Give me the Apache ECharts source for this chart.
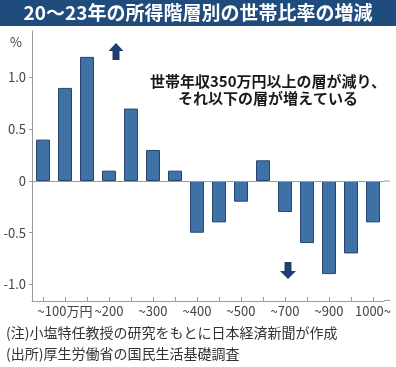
<!DOCTYPE html>
<html><head><meta charset="utf-8">
<script src="https://cdn.jsdelivr.net/npm/echarts@6/dist/echarts.min.js"></script>
<style>html,body{margin:0;padding:0;background:#fff}#c{width:396px;height:367px}</style>
</head><body><div id="c"></div>
<script>
const categories = ['~50','~100','~150','~200','~250','~300','~350','~400','~450','~500','~600','~700','~800','~900','~1000','1000~'];
const values = [0.4, 0.9, 1.2, 0.1, 0.7, 0.3, 0.1, -0.5, -0.4, -0.2, 0.2, -0.3, -0.6, -0.9, -0.7, -0.4];
const xTickLabels = ['', '~100万円', '', '~200', '', '~300', '', '~400', '', '~500', '', '~700', '', '~900', '', '1000~'];
const yTickValues = [-1, -0.5, 0, 0.5, 1];
const titleText = '20～23年の所得階層別の世帯比率の増減';
const unitText = '%';
const annotationLines = ['世帯年収350万円以上の層が減り、', 'それ以下の層が増えている'];
const noteLines = ['(注)小塩特任教授の研究をもとに日本経済新聞が作成', '(出所)厚生労働省の国民生活基礎調査'];

const FONT = '"Noto Sans CJK JP", "Noto Sans", sans-serif';
const AXIS = '#9a9a9a';
const chart = echarts.init(document.getElementById('c'), null, {renderer: 'canvas'});
chart.setOption({
  animation: false,
  backgroundColor: '#fff',
  textStyle: {fontFamily: FONT},
  grid: {left: 32, right: 12, top: 31, bottom: 66, containLabel: false},
  xAxis: {
    type: 'category',
    data: categories,
    axisLine: {show: true, onZero: false, lineStyle: {color: AXIS, width: 1}},
    axisTick: {show: true, alignWithLabel: true, interval: 0, inside: true, length: 4, lineStyle: {color: AXIS}},
    axisLabel: {interval: 0, margin: 4, fontSize: 13, color: '#444', fontFamily: FONT,
      formatter: (v, i) => xTickLabels[i]},
    splitLine: {show: false}
  },
  yAxis: {
    type: 'value',
    min: -1.16, max: 1.45,
    axisLine: {show: true, lineStyle: {color: AXIS, width: 1}},
    axisTick: {show: true, length: 3, customValues: yTickValues, lineStyle: {color: AXIS}},
    axisLabel: {customValues: yTickValues, margin: 6, fontSize: 13, color: '#444', fontFamily: FONT,
      formatter: v => v === 0 ? '0' : v.toFixed(1)},
    splitLine: {show: false}
  },
  series: [{
    type: 'bar',
    data: values,
    barWidth: 14,
    itemStyle: {color: '#3e72a6', borderColor: '#29456a', borderWidth: 1},
    markLine: {
      silent: true, symbol: 'none', label: {show: false},
      lineStyle: {color: AXIS, type: 'solid', width: 1},
      data: [{yAxis: 0}]
    }
  }],
  graphic: [
    {type: 'rect', shape: {x: 0, y: 0, width: 396, height: 26}, style: {fill: '#1f4c7d'}, z: 10},
    {type: 'text', x: 198, y: 13, z: 11, style: {text: titleText, fill: '#fff', font: 'bold 19px ' + FONT, textAlign: 'center', textVerticalAlign: 'middle'}},
    {type: 'text', x: 16, y: 42, style: {text: unitText, fill: '#444', font: '13px ' + FONT, textAlign: 'center', textVerticalAlign: 'middle'}},
    {type: 'text', x: 268, y: 90, style: {text: annotationLines.join('\n'), fill: '#1a1a1a', font: 'bold 15px ' + FONT, lineHeight: 17, textAlign: 'center', textVerticalAlign: 'middle'}},
    {type: 'text', x: 6, y: 333, style: {text: noteLines[0], fill: '#333', font: '14px ' + FONT, textAlign: 'left', textVerticalAlign: 'middle'}},
    {type: 'text', x: 6, y: 354, style: {text: noteLines[1], fill: '#333', font: '14px ' + FONT, textAlign: 'left', textVerticalAlign: 'middle'}},
    {type: 'polygon', shape: {points: [[116,43],[123.5,51],[119.5,51],[119.5,60],[112.5,60],[112.5,51],[108.5,51]]}, style: {fill: '#1c3f6d'}},
    {type: 'polygon', shape: {points: [[288,279],[296,271],[291.5,271],[291.5,262],[284.5,262],[284.5,271],[280,271]]}, style: {fill: '#1c3f6d'}},
    {type: 'line', shape: {x1: 384, y1: 300.5, x2: 390, y2: 300.5}, style: {stroke: AXIS, lineWidth: 1}},
    {type: 'line', shape: {x1: 384, y1: 181, x2: 390, y2: 181}, style: {stroke: AXIS, lineWidth: 1}}
  ]
});
</script>
</body></html>
